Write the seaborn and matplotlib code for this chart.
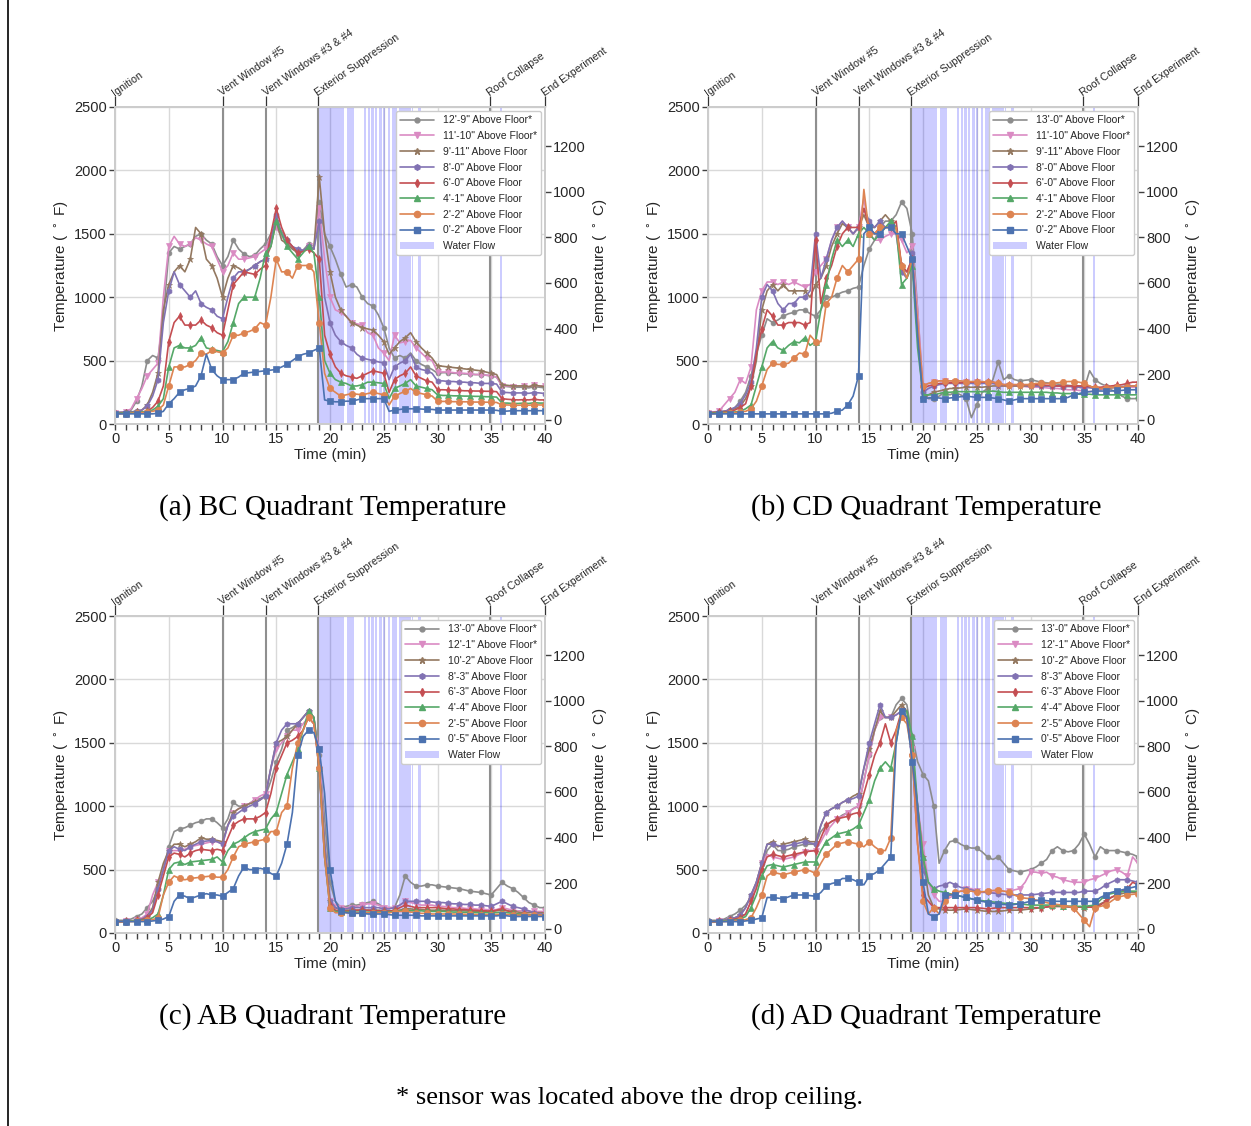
import numpy as np
import matplotlib
matplotlib.use("Agg")
import matplotlib.pyplot as plt
from matplotlib.patches import Patch
from matplotlib.lines import Line2D
from matplotlib.ticker import MultipleLocator
import seaborn as sns

# sample times (min), one reading every half minute
TIME = np.arange(0, 40.5, 0.5)

EVENT_TIMES = [0, 10, 14, 18.9, 34.9, 40]
EVENT_NAMES = ["Ignition", "Vent Window #5", "Vent Windows #3 & #4",
               "Exterior Suppression", "Roof Collapse", "End Experiment"]

WATER_START = [18.9, 21.55, 23.15, 23.5, 23.85, 24.2, 24.55, 24.95, 25.35, 25.8, 26.45, 27.65, 28.2, 35.85]
WATER_END = [21.3, 22.25, 23.35, 23.7, 24.05, 24.4, 24.8, 25.15, 25.6, 26.2, 27.5, 27.75, 28.5, 36.0]

LABELS_BC = ["12'-9\" Above Floor*", "11'-10\" Above Floor*", "9'-11\" Above Floor", "8'-0\" Above Floor",
             "6'-0\" Above Floor", "4'-1\" Above Floor", "2'-2\" Above Floor", "0'-2\" Above Floor"]
LABELS_CD = ["13'-0\" Above Floor*", "11'-10\" Above Floor*", "9'-11\" Above Floor", "8'-0\" Above Floor",
             "6'-0\" Above Floor", "4'-1\" Above Floor", "2'-2\" Above Floor", "0'-2\" Above Floor"]
LABELS_AB = ["13'-0\" Above Floor*", "12'-1\" Above Floor*", "10'-2\" Above Floor", "8'-3\" Above Floor",
             "6'-3\" Above Floor", "4'-4\" Above Floor", "2'-5\" Above Floor", "0'-5\" Above Floor"]
LABELS_AD = LABELS_AB

# ---------------- BC quadrant (deg F) ----------------
BC_1209 = [90, 92, 95, 110, 180, 300, 500, 540, 520, 850,
           1350, 1400, 1380, 1400, 1420, 1480, 1500, 1450, 1420, 1320,
           1250, 1320, 1450, 1380, 1340, 1320, 1330, 1380, 1420, 1500,
           1570, 1520, 1450, 1400, 1340, 1370, 1420, 1380, 1750, 1500,
           1400, 1300, 1180, 1080, 1100, 1080, 1000, 950, 930, 860,
           760, 600, 520, 540, 520, 560, 500, 470, 450, 430,
           400, 405, 405, 400, 400, 395, 395, 390, 390, 385,
           380, 370, 300, 295, 290, 290, 290, 285, 295, 290,
           285]
BC_1110 = [90, 92, 95, 120, 200, 280, 380, 430, 480, 1000,
           1400, 1480, 1420, 1400, 1420, 1470, 1450, 1420, 1400, 1300,
           1200, 1250, 1350, 1300, 1300, 1310, 1320, 1350, 1380, 1480,
           1550, 1480, 1430, 1380, 1360, 1370, 1400, 1380, 1700, 1300,
           1000, 900, 880, 850, 800, 790, 780, 720, 700, 600,
           560, 500, 700, 640, 650, 660, 600, 560, 520, 500,
           410, 410, 410, 405, 400, 400, 395, 390, 390, 385,
           380, 370, 300, 300, 295, 300, 300, 295, 305, 300,
           300]
BC_0911 = [90, 90, 92, 95, 100, 110, 150, 250, 400, 900,
           1100, 1200, 1250, 1200, 1300, 1550, 1500, 1300, 1250, 1150,
           1000, 1150, 1250, 1230, 1200, 1220, 1250, 1280, 1300, 1400,
           1600, 1450, 1420, 1380, 1350, 1370, 1400, 1380, 1950, 1500,
           1200, 1000, 900, 850, 800, 780, 760, 750, 740, 700,
           650, 550, 600, 650, 680, 720, 650, 600, 560, 520,
           460, 455, 450, 445, 440, 435, 430, 425, 420, 410,
           400, 390, 310, 305, 300, 300, 300, 295, 305, 300,
           295]
BC_0800 = [90, 90, 92, 95, 100, 110, 140, 220, 350, 800,
           1050, 1200, 1100, 1050, 1000, 1050, 950, 920, 900, 850,
           830, 1000, 1150, 1200, 1200, 1220, 1250, 1280, 1300, 1450,
           1650, 1500, 1450, 1400, 1380, 1370, 1400, 1380, 1600, 1000,
           800, 700, 650, 620, 600, 550, 520, 510, 500, 490,
           480, 350, 450, 480, 500, 550, 450, 430, 420, 400,
           340, 340, 335, 335, 330, 330, 325, 325, 320, 320,
           320, 315, 250, 248, 245, 245, 245, 242, 248, 245,
           240]
BC_0600 = [85, 85, 88, 90, 92, 95, 100, 130, 180, 300,
           650, 800, 850, 780, 780, 780, 820, 780, 760, 720,
           700, 900, 1100, 1150, 1200, 1190, 1180, 1220, 1250, 1500,
           1700, 1550, 1450, 1400, 1350, 1360, 1380, 1350, 1300, 700,
           550, 450, 400, 380, 370, 360, 380, 400, 420, 410,
           400, 250, 350, 380, 400, 450, 380, 360, 340, 330,
           270, 270, 268, 265, 265, 262, 262, 260, 260, 258,
           258, 255, 200, 195, 192, 190, 192, 190, 195, 190,
           190]
BC_0401 = [85, 85, 88, 90, 92, 95, 100, 110, 140, 200,
           450, 600, 620, 600, 600, 620, 680, 600, 590, 580,
           570, 650, 800, 950, 1000, 1000, 1000, 1150, 1350, 1400,
           1600, 1500, 1400, 1350, 1300, 1350, 1400, 1350, 1000, 500,
           400, 350, 330, 320, 300, 300, 310, 330, 330, 325,
           320, 200, 280, 300, 320, 350, 300, 290, 280, 270,
           230, 225, 225, 222, 222, 220, 220, 218, 218, 215,
           215, 212, 165, 165, 162, 162, 165, 162, 168, 165,
           165]
BC_0202 = [80, 80, 82, 85, 88, 90, 95, 100, 110, 150,
           300, 450, 450, 450, 470, 500, 560, 550, 580, 570,
           560, 600, 700, 700, 720, 730, 750, 800, 780, 1000,
           1300, 1200, 1200, 1150, 1250, 1250, 1250, 1200, 800, 400,
           280, 250, 220, 230, 240, 235, 230, 240, 250, 240,
           230, 150, 220, 240, 260, 280, 250, 240, 230, 220,
           180, 178, 178, 176, 176, 175, 175, 173, 173, 172,
           172, 170, 150, 150, 148, 148, 150, 148, 152, 150,
           150]
BC_0002 = [80, 80, 80, 80, 80, 80, 80, 80, 85, 100,
           160, 200, 250, 270, 280, 300, 380, 550, 430, 380,
           350, 350, 350, 370, 400, 405, 410, 415, 420, 425,
           430, 450, 470, 500, 530, 550, 560, 580, 600, 190,
           180, 175, 175, 180, 180, 190, 200, 200, 200, 200,
           200, 100, 110, 115, 120, 120, 120, 118, 115, 115,
           110, 110, 110, 110, 110, 110, 110, 110, 110, 110,
           110, 108, 100, 102, 105, 105, 105, 105, 105, 105,
           105]

# ---------------- CD quadrant (deg F) ----------------
CD_1300 = [90, 90, 95, 100, 110, 130, 180, 250, 380, 550,
           700, 830, 800, 820, 850, 870, 880, 900, 900, 870,
           850, 900, 1000, 1000, 1020, 1040, 1050, 1070, 1080, 1250,
           1380, 1450, 1550, 1600, 1600, 1650, 1750, 1700, 1500, 900,
           250, 200, 200, 220, 250, 230, 250, 230, 200, 50,
           150, 250, 280, 350, 490, 350, 380, 350, 340, 345,
           350, 340, 330, 325, 320, 315, 310, 305, 300, 290,
           280, 420, 350, 320, 300, 270, 250, 220, 200, 200,
           200]
CD_1110 = [90, 95, 100, 150, 200, 250, 350, 320, 450, 900,
           1050, 1120, 1120, 1100, 1120, 1100, 1120, 1100, 1080, 1100,
           1200, 1250, 1300, 1450, 1550, 1600, 1550, 1500, 1550, 1780,
           1500, 1450, 1450, 1480, 1500, 1500, 1450, 1350, 1400, 900,
           300, 320, 330, 340, 340, 340, 335, 330, 330, 330,
           330, 325, 320, 330, 300, 300, 300, 300, 300, 295,
           290, 290, 290, 285, 280, 280, 275, 270, 270, 265,
           260, 255, 260, 270, 280, 285, 290, 290, 290, 290,
           290]
CD_0911 = [90, 90, 95, 100, 110, 120, 140, 200, 300, 500,
           900, 1050, 1100, 1050, 1100, 1050, 1050, 1050, 1050, 1000,
           1100, 1150, 1250, 1400, 1500, 1580, 1550, 1500, 1550, 1650,
           1550, 1550, 1600, 1650, 1600, 1550, 1250, 1200, 1300, 700,
           200, 230, 250, 260, 270, 280, 280, 285, 290, 290,
           290, 290, 295, 300, 300, 300, 300, 300, 300, 300,
           300, 300, 300, 300, 300, 300, 300, 300, 300, 300,
           300, 300, 280, 280, 280, 285, 290, 290, 295, 300,
           300]
CD_0800 = [90, 90, 95, 100, 110, 130, 160, 230, 330, 600,
           1000, 1100, 1050, 950, 900, 950, 950, 1000, 1000, 1050,
           1500, 1150, 1300, 1450, 1550, 1600, 1550, 1500, 1550, 1700,
           1600, 1550, 1600, 1550, 1550, 1500, 1200, 1150, 1350, 700,
           250, 280, 300, 310, 320, 320, 320, 320, 320, 320,
           320, 320, 320, 320, 310, 310, 310, 305, 305, 305,
           300, 300, 300, 300, 300, 300, 295, 295, 295, 290,
           290, 285, 280, 280, 285, 290, 290, 295, 300, 300,
           300]
CD_0600 = [90, 90, 92, 95, 100, 110, 130, 160, 300, 550,
           750, 900, 850, 780, 780, 800, 800, 800, 780, 800,
           1450, 950, 1150, 1250, 1400, 1500, 1550, 1550, 1550, 1700,
           1550, 1500, 1550, 1550, 1550, 1600, 1250, 1200, 1300, 700,
           280, 300, 310, 320, 320, 325, 325, 325, 330, 330,
           330, 330, 330, 330, 320, 310, 310, 310, 310, 310,
           310, 310, 310, 305, 305, 300, 300, 300, 300, 300,
           300, 295, 290, 290, 295, 300, 305, 310, 320, 330,
           330]
CD_0401 = [85, 85, 88, 90, 92, 95, 100, 120, 150, 300,
           450, 600, 650, 600, 580, 620, 650, 640, 680, 620,
           650, 900, 1100, 1300, 1450, 1400, 1450, 1400, 1500, 1550,
           1500, 1450, 1500, 1550, 1600, 1550, 1100, 1150, 1250, 600,
           230, 230, 230, 240, 250, 250, 255, 255, 255, 255,
           255, 255, 255, 260, 255, 250, 250, 250, 250, 250,
           250, 250, 250, 250, 245, 245, 240, 240, 240, 235,
           235, 235, 230, 230, 230, 230, 230, 230, 230, 230,
           230]
CD_0202 = [80, 80, 82, 85, 88, 90, 95, 100, 120, 180,
           300, 430, 480, 470, 470, 480, 520, 560, 550, 700,
           650, 650, 950, 1000, 1150, 1250, 1200, 1250, 1300, 1850,
           1500, 1500, 1550, 1550, 1550, 1550, 1250, 1150, 1300, 800,
           300, 320, 330, 340, 340, 340, 340, 340, 335, 335,
           335, 335, 330, 330, 320, 310, 310, 310, 310, 310,
           310, 320, 320, 320, 320, 325, 330, 335, 335, 330,
           320, 300, 280, 280, 285, 290, 290, 290, 295, 300,
           300]
CD_0002 = [80, 80, 80, 80, 80, 80, 80, 80, 80, 80,
           80, 80, 80, 80, 80, 80, 80, 80, 80, 80,
           80, 80, 80, 85, 100, 110, 150, 220, 380, 1500,
           1550, 1500, 1500, 1550, 1550, 1500, 1500, 1400, 1300, 700,
           200, 205, 210, 205, 200, 205, 210, 215, 220, 215,
           210, 210, 210, 205, 200, 190, 180, 190, 200, 200,
           200, 200, 200, 200, 200, 200, 200, 210, 230, 240,
           250, 255, 260, 260, 260, 260, 265, 265, 270, 270,
           270]

# ---------------- AB quadrant (deg F) ----------------
AB_1300 = [100, 100, 100, 110, 130, 150, 200, 250, 350, 500,
           680, 800, 820, 830, 850, 870, 880, 900, 900, 870,
           830, 900, 1030, 1000, 1000, 1020, 1050, 1060, 1080, 1200,
           1350, 1450, 1600, 1620, 1650, 1700, 1750, 1700, 1400, 900,
           400, 250, 200, 210, 220, 220, 230, 240, 250, 230,
           200, 200, 200, 300, 450, 400, 370, 370, 380, 380,
           370, 365, 360, 355, 350, 340, 330, 325, 320, 310,
           300, 350, 400, 370, 350, 320, 280, 240, 220, 200,
           200]
AB_1201 = [90, 90, 92, 95, 100, 120, 150, 300, 400, 500,
           650, 650, 650, 660, 680, 690, 700, 710, 720, 720,
           700, 850, 950, 980, 1000, 1020, 1050, 1080, 1100, 1300,
           1450, 1500, 1550, 1600, 1600, 1650, 1700, 1650, 1450, 700,
           250, 220, 200, 200, 200, 210, 220, 230, 230, 220,
           200, 200, 200, 220, 250, 240, 230, 220, 220, 220,
           210, 210, 205, 200, 200, 195, 190, 190, 185, 185,
           180, 185, 200, 190, 180, 175, 175, 170, 170, 170,
           170]
AB_1002 = [90, 90, 92, 95, 100, 110, 130, 200, 400, 550,
           650, 700, 700, 680, 700, 720, 750, 740, 740, 730,
           720, 850, 950, 980, 1000, 1020, 1030, 1050, 1080, 1300,
           1500, 1520, 1550, 1600, 1650, 1700, 1750, 1700, 1300, 700,
           250, 200, 180, 180, 180, 180, 180, 180, 180, 180,
           175, 175, 175, 180, 190, 190, 185, 185, 180, 180,
           180, 180, 178, 178, 175, 175, 172, 172, 170, 170,
           170, 175, 180, 175, 170, 165, 160, 160, 160, 160,
           160]
AB_0803 = [90, 90, 92, 95, 100, 110, 130, 180, 350, 500,
           650, 680, 660, 650, 680, 700, 720, 725, 730, 720,
           700, 850, 920, 950, 980, 1000, 1020, 1050, 1080, 1300,
           1500, 1600, 1650, 1650, 1650, 1700, 1750, 1700, 1300, 700,
           250, 200, 190, 190, 200, 200, 200, 200, 200, 200,
           190, 190, 200, 220, 250, 250, 250, 250, 250, 245,
           240, 240, 235, 230, 230, 225, 225, 220, 220, 215,
           210, 230, 250, 230, 210, 200, 190, 175, 160, 150,
           150]
AB_0603 = [90, 90, 92, 95, 100, 105, 120, 160, 300, 450,
           600, 630, 620, 600, 630, 650, 660, 655, 650, 660,
           650, 750, 850, 880, 900, 900, 900, 920, 950, 1100,
           1300, 1400, 1500, 1520, 1550, 1600, 1700, 1650, 1300, 600,
           220, 180, 170, 170, 175, 180, 180, 180, 175, 175,
           170, 170, 180, 200, 220, 210, 200, 200, 200, 200,
           200, 195, 190, 190, 185, 185, 180, 180, 175, 175,
           170, 180, 190, 175, 160, 150, 150, 145, 140, 140,
           140]
AB_0404 = [90, 90, 92, 95, 98, 100, 105, 120, 150, 300,
           500, 550, 560, 540, 560, 565, 570, 575, 580, 600,
           560, 650, 700, 720, 750, 780, 800, 810, 820, 900,
           950, 1100, 1250, 1350, 1450, 1600, 1750, 1700, 1300, 600,
           200, 170, 165, 165, 165, 165, 165, 165, 165, 165,
           165, 165, 170, 175, 180, 175, 175, 175, 170, 170,
           170, 170, 168, 165, 165, 163, 162, 160, 160, 160,
           160, 160, 165, 160, 155, 150, 145, 140, 140, 140,
           140]
AB_0205 = [85, 85, 88, 90, 92, 95, 100, 105, 120, 300,
           400, 450, 430, 420, 430, 435, 440, 445, 450, 440,
           440, 500, 600, 680, 700, 710, 720, 730, 740, 800,
           800, 950, 1000, 1300, 1500, 1600, 1700, 1650, 1300, 600,
           200, 160, 160, 160, 160, 160, 160, 160, 160, 160,
           160, 160, 165, 170, 170, 165, 160, 155, 155, 150,
           150, 150, 150, 150, 148, 148, 146, 145, 145, 145,
           145, 145, 150, 145, 142, 140, 140, 140, 140, 140,
           140]
AB_0005 = [90, 90, 90, 90, 90, 90, 90, 95, 100, 110,
           130, 250, 300, 290, 270, 285, 300, 310, 300, 300,
           290, 320, 350, 450, 520, 500, 500, 510, 500, 470,
           450, 550, 700, 950, 1400, 1550, 1600, 1580, 1450, 1100,
           500, 250, 170, 160, 155, 155, 155, 150, 150, 150,
           150, 145, 140, 140, 140, 140, 140, 135, 135, 135,
           135, 135, 135, 135, 135, 135, 135, 135, 135, 135,
           135, 135, 140, 135, 130, 130, 130, 130, 130, 130,
           130]

# ---------------- AD quadrant (deg F) ----------------
AD_1300 = [100, 100, 100, 110, 130, 150, 180, 220, 280, 380,
           500, 650, 700, 650, 650, 660, 680, 690, 700, 700,
           700, 800, 850, 880, 900, 930, 950, 980, 1000, 1200,
           1400, 1600, 1700, 1700, 1700, 1800, 1850, 1800, 1550, 1350,
           1250, 1200, 1000, 550, 650, 720, 730, 700, 680, 670,
           670, 640, 600, 580, 600, 550, 500, 490, 480, 490,
           500, 520, 550, 580, 650, 680, 650, 640, 650, 700,
           780, 700, 600, 680, 650, 650, 650, 640, 630, 620,
           600]
AD_1201 = [90, 90, 92, 95, 100, 110, 130, 150, 250, 400,
           550, 620, 600, 590, 580, 590, 600, 620, 640, 650,
           650, 720, 800, 850, 900, 920, 950, 980, 1000, 1200,
           1400, 1600, 1700, 1700, 1700, 1720, 1750, 1700, 1450, 1000,
           700, 400, 300, 250, 250, 280, 300, 330, 350, 350,
           330, 320, 320, 320, 330, 330, 330, 340, 350, 400,
           480, 480, 470, 480, 450, 440, 420, 410, 400, 400,
           400, 420, 430, 450, 470, 490, 500, 480, 450, 600,
           550]
AD_1002 = [90, 90, 95, 100, 110, 120, 140, 200, 300, 400,
           550, 700, 720, 680, 700, 710, 720, 730, 740, 720,
           720, 850, 950, 980, 1000, 1030, 1050, 1080, 1100, 1300,
           1450, 1600, 1750, 1700, 1700, 1750, 1800, 1750, 1400, 1000,
           600, 300, 200, 190, 180, 180, 180, 185, 190, 185,
           180, 175, 170, 170, 170, 175, 180, 180, 180, 185,
           190, 195, 200, 205, 210, 210, 210, 210, 210, 205,
           200, 205, 210, 230, 250, 280, 300, 310, 320, 320,
           320]
AD_0803 = [90, 90, 95, 100, 110, 120, 140, 200, 300, 400,
           550, 700, 700, 690, 680, 690, 700, 710, 720, 710,
           700, 850, 950, 980, 1000, 1030, 1050, 1060, 1080, 1300,
           1500, 1650, 1800, 1700, 1700, 1720, 1750, 1700, 1400, 900,
           500, 400, 350, 370, 380, 400, 380, 360, 350, 340,
           330, 325, 320, 315, 310, 305, 300, 300, 300, 300,
           300, 305, 310, 315, 320, 320, 320, 320, 320, 320,
           330, 330, 330, 350, 380, 400, 420, 420, 420, 410,
           400]
AD_0603 = [90, 90, 92, 95, 100, 110, 120, 150, 250, 350,
           500, 600, 620, 610, 600, 610, 620, 630, 640, 645,
           650, 750, 850, 880, 900, 910, 920, 940, 950, 1100,
           1250, 1400, 1500, 1650, 1500, 1600, 1750, 1700, 1400, 700,
           300, 250, 200, 200, 200, 200, 200, 200, 200, 200,
           200, 195, 190, 195, 200, 200, 200, 200, 200, 200,
           200, 200, 200, 205, 210, 210, 210, 205, 200, 205,
           210, 205, 200, 220, 250, 280, 300, 330, 350, 400,
           380]
AD_0404 = [90, 90, 92, 95, 98, 100, 110, 130, 200, 300,
           450, 530, 540, 530, 520, 530, 540, 550, 560, 560,
           560, 650, 720, 750, 780, 790, 800, 820, 850, 950,
           1050, 1200, 1300, 1350, 1300, 1500, 1750, 1750, 1550, 1000,
           600, 400, 350, 330, 320, 310, 300, 290, 280, 270,
           260, 255, 250, 245, 240, 235, 230, 230, 230, 225,
           220, 220, 220, 220, 220, 215, 210, 210, 210, 210,
           210, 215, 220, 260, 300, 310, 320, 325, 330, 330,
           330]
AD_0205 = [85, 85, 88, 90, 92, 95, 100, 105, 120, 200,
           300, 450, 480, 470, 460, 470, 480, 490, 500, 490,
           470, 550, 620, 660, 700, 710, 720, 710, 700, 680,
           720, 680, 650, 650, 750, 1600, 1700, 1650, 1400, 700,
           250, 150, 200, 150, 250, 300, 320, 330, 330, 330,
           320, 325, 330, 335, 340, 330, 320, 300, 280, 275,
           270, 260, 250, 240, 230, 225, 220, 210, 200, 150,
           100, 50, 200, 210, 220, 250, 280, 290, 300, 305,
           310]
AD_0005 = [90, 90, 90, 90, 90, 90, 90, 95, 100, 110,
           120, 280, 280, 275, 270, 285, 300, 300, 300, 295,
           290, 320, 370, 390, 400, 430, 430, 420, 400, 380,
           450, 470, 500, 550, 600, 1500, 1750, 1700, 1350, 1000,
           400, 150, 130, 150, 300, 300, 300, 290, 280, 270,
           260, 250, 240, 235, 230, 225, 220, 225, 230, 240,
           250, 255, 260, 255, 250, 250, 250, 250, 250, 250,
           250, 250, 250, 280, 300, 320, 330, 340, 350, 360,
           370]

PANELS = [
    ("(a) BC Quadrant Temperature", LABELS_BC,
     [BC_1209, BC_1110, BC_0911, BC_0800, BC_0600, BC_0401, BC_0202, BC_0002]),
    ("(b) CD Quadrant Temperature", LABELS_CD,
     [CD_1300, CD_1110, CD_0911, CD_0800, CD_0600, CD_0401, CD_0202, CD_0002]),
    ("(c) AB Quadrant Temperature", LABELS_AB,
     [AB_1300, AB_1201, AB_1002, AB_0803, AB_0603, AB_0404, AB_0205, AB_0005]),
    ("(d) AD Quadrant Temperature", LABELS_AD,
     [AD_1300, AD_1201, AD_1002, AD_0803, AD_0603, AD_0404, AD_0205, AD_0005]),
]

sns.set_theme(style="whitegrid", palette="deep")
plt.rcParams["font.family"] = ["Liberation Sans", "DejaVu Sans"]
plt.rcParams["axes.edgecolor"] = "0.8"
plt.rcParams["grid.color"] = "0.85"

deep = sns.color_palette("deep")
COLORS = [deep[7], deep[6], deep[5], deep[4], deep[3], deep[2], deep[1], deep[0]]
MARKERS = ["o", "v", "*", "h", "d", "^", "o", "s"]
MSIZES = [3.5, 4.5, 4.5, 4, 4, 4, 4.5, 5]

W, H = 1251, 1126
fig = plt.figure(figsize=(W / 100, H / 100), dpi=100)

AX_W, AX_H = 430 / W, 317 / H
POS = [(115, 107), (708, 107), (115, 616), (708, 616)]
CAPTION_X = [333, 926, 333, 926]
CAPTION_Y = [508, 508, 1017, 1017]


def f_to_c(v):
    return (v - 32.0) * 5.0 / 9.0


for k, (title, labels, series) in enumerate(PANELS):
    px, py = POS[k]
    ax = fig.add_axes([px / W, 1 - (py + 317) / H, AX_W, AX_H])

    for s, e in zip(WATER_START, WATER_END):
        ax.axvspan(s, e, color="blue", alpha=0.2, lw=0, zorder=1)
    for t in EVENT_TIMES[1:-1]:
        ax.axvline(t, color="#8f8f8f", lw=1.5, zorder=1.6)

    for i, vals in enumerate(series):
        sns.lineplot(x=TIME, y=vals, ax=ax, color=COLORS[i], marker=MARKERS[i],
                     markersize=MSIZES[i], markevery=2, mec=COLORS[i], mew=0.5,
                     lw=1.2, legend=False, zorder=2 + i * 0.01)

    ax.set_xlim(0, 40)
    ax.set_ylim(0, 2500)
    ax.xaxis.set_major_locator(MultipleLocator(5))
    ax.xaxis.set_minor_locator(MultipleLocator(1))
    ax.yaxis.set_major_locator(MultipleLocator(500))
    ax.grid(True, which="major", color="0.85", lw=1)
    ax.grid(False, which="minor")
    ax.tick_params(axis="x", which="both", bottom=True, direction="out", length=4,
                   width=1, color="0.25", labelsize=10.5, pad=2)
    ax.tick_params(axis="y", which="major", left=True, direction="out", length=4,
                   width=1, color="0.25", labelsize=10.5, pad=2)
    ax.set_xlabel("Time (min)", fontsize=11, labelpad=1, color="0.15")
    ax.set_ylabel("Temperature ( $^\\circ$ F)", fontsize=11, color="0.15", labelpad=2)

    ax2 = ax.twinx()
    ax2.set_ylim(f_to_c(0), f_to_c(2500))
    ax2.set_yticks(range(0, 1201, 200))
    ax2.grid(False)
    ax2.tick_params(axis="y", right=True, direction="out", length=4, width=1,
                    color="0.25", labelsize=10.5, pad=2)
    ax2.set_ylabel("Temperature ( $^\\circ$ C)", fontsize=11, color="0.15")
    for sp in ax2.spines.values():
        sp.set_color("0.8")

    top = ax.secondary_xaxis("top")
    top.set_xticks(EVENT_TIMES)
    top.set_xticklabels(EVENT_NAMES, rotation=35, ha="left", va="baseline",
                        rotation_mode="anchor", fontsize=7.7, color="0.15")
    top.tick_params(axis="x", length=8, width=0.9, color="0.2", pad=0)
    top.spines["top"].set_color("0.8")

    handles = [Line2D([], [], color=COLORS[i], marker=MARKERS[i], markersize=MSIZES[i],
                      mec=COLORS[i], lw=1.2) for i in range(len(labels))]
    handles.append(Patch(facecolor="blue", alpha=0.2, lw=0))
    leg = ax.legend(handles, labels + ["Water Flow"], loc="upper right", fontsize=7.5,
                    handlelength=3.3, labelspacing=0.55, borderaxespad=0.4,
                    frameon=True, fancybox=True, framealpha=1.0)
    leg.get_frame().set_edgecolor("0.8")
    leg.set_zorder(5)

    fig.text(CAPTION_X[k] / W, 1 - CAPTION_Y[k] / H, title, ha="center", va="center",
             fontsize=21, family="Liberation Serif", color="black")

fig.text(630 / W, 1 - 1098 / H, "* sensor was located above the drop ceiling.",
         ha="center", va="center", fontsize=19, family="Liberation Serif", color="black")
fig.add_artist(Line2D([8 / W, 8 / W], [0, 1], transform=fig.transFigure, color="black", lw=1.2))

fig.savefig("out.png", dpi=100)
